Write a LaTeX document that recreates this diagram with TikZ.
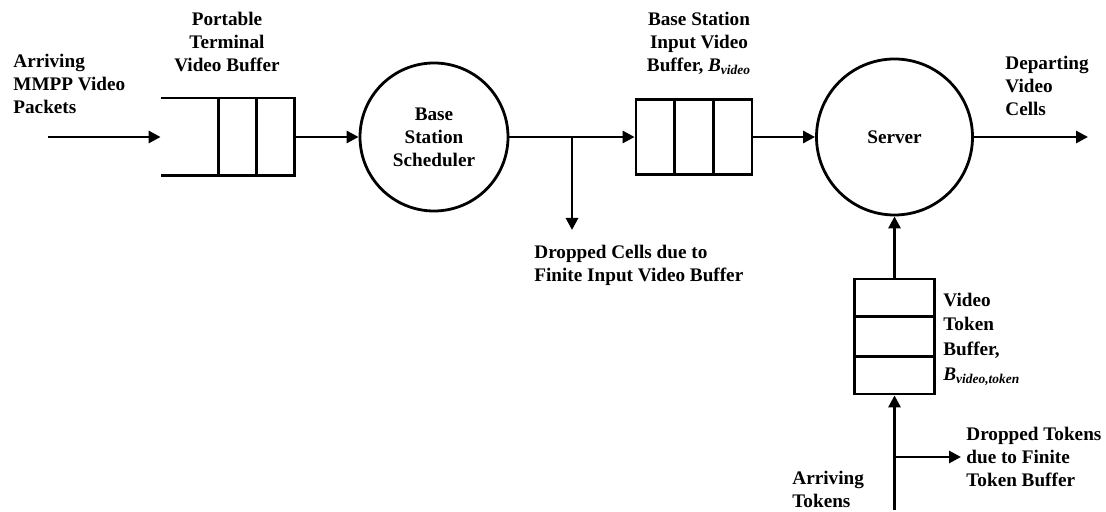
\documentclass[tikz,border=0pt]{standalone}
\usepackage{fontspec}
\setmainfont{Liberation Serif}
\usetikzlibrary{arrows.meta,positioning,calc}

\begin{document}
\begin{tikzpicture}[
  x=0.5pt, y=-0.5pt,
  font=\bfseries\fontsize{9.6}{11.5}\selectfont,
  line width=1.4pt,
  station/.style={draw, circle, inner sep=0pt, align=center},
  queue/.style={inner sep=0pt, minimum width=#1, minimum height=37.5pt},
  lbl/.style={align=left, inner sep=0pt},
  arr/.style={-{Triangle[length=6pt, width=6pt]}}
]
\useasboundingbox (0,0) rectangle (1106,512);

% buffers and stations
\node[queue=65.5pt] (ptbuf) at (227.5,137) {};
\node[station, minimum size=74pt] (sched) at (434,137) {Base\\Station\\Scheduler};
\node[queue=58pt, draw] (bsbuf) at (694,137) {};
\node[station, minimum size=78pt] (server) at (894.5,137) {Server};
\node[inner sep=0pt, draw, minimum width=40pt, minimum height=57.5pt] (tokbuf) at (894.5,336.5) {};

% portable terminal buffer, open on the left
\draw (ptbuf.north west) -- (ptbuf.north east) -- (ptbuf.south east) -- (ptbuf.south west);
\draw ($(ptbuf.north east)+(-38,0)$) -- ($(ptbuf.south east)+(-38,0)$);
\draw ($(ptbuf.north east)+(-76,0)$) -- ($(ptbuf.south east)+(-76,0)$);
\foreach \f in {1,2} {
  \draw ($(bsbuf.north west)!\f/3!(bsbuf.north east)$) -- ($(bsbuf.south west)!\f/3!(bsbuf.south east)$);
  \draw ($(tokbuf.north west)!\f/3!(tokbuf.south west)$) -- ($(tokbuf.north east)!\f/3!(tokbuf.south east)$);
}

% free ends
\coordinate (pktin) at (48,137);
\coordinate (cellout) at (1088,137);
\coordinate (split) at (572,137);
\coordinate (celldrop) at (572,230);
\coordinate (tokin) at (894.5,510);
\coordinate (toksplit) at (894.5,457);
\coordinate (tokdrop) at (961,457);

% flows
\draw[arr] (pktin) -- (ptbuf.west);
\draw[arr] (ptbuf.east) -- (sched.west);
\draw[arr] (sched.east) -- (bsbuf.west);
\draw[arr] (split) -- (celldrop);
\draw[arr] (bsbuf.east) -- (server.west);
\draw[arr] (server.east) -- (cellout);
\draw[arr] (tokbuf.north) -- (server.south);
\draw[arr] (tokin) -- (tokbuf.south);
\draw[arr] (toksplit) -- (tokdrop);

% labels
\node[lbl, anchor=west] (pktlbl) at (12,84) {Arriving\\MMPP Video\\Packets};
\node[lbl, align=center] (ptlbl) at (227,42) {Portable\\Terminal\\Video Buffer};
\node[lbl, align=center] (bslbl) at (699,43) {Base Station\\Input Video\\Buffer, \textit{B}\textsubscript{\textit{video}}};
\node[lbl, anchor=west] (outlbl) at (1004,86) {Departing\\Video\\Cells};
\node[lbl, anchor=west] (celllbl) at (533,265) {Dropped Cells due to\\Finite Input Video Buffer};
\node[lbl, anchor=west, font=\bfseries\fontsize{9.6}{12.3}\selectfont] (toklbl) at (942,339) {Video\\Token\\Buffer,\\\textit{B}\textsubscript{\textit{video,token}}};
\node[lbl, right=2pt of tokdrop] (tokdroplbl) {Dropped Tokens\\due to Finite\\Token Buffer};
\node[lbl, anchor=west] (tokinlbl) at (791,489) {Arriving\\Tokens};
\end{tikzpicture}
\end{document}
